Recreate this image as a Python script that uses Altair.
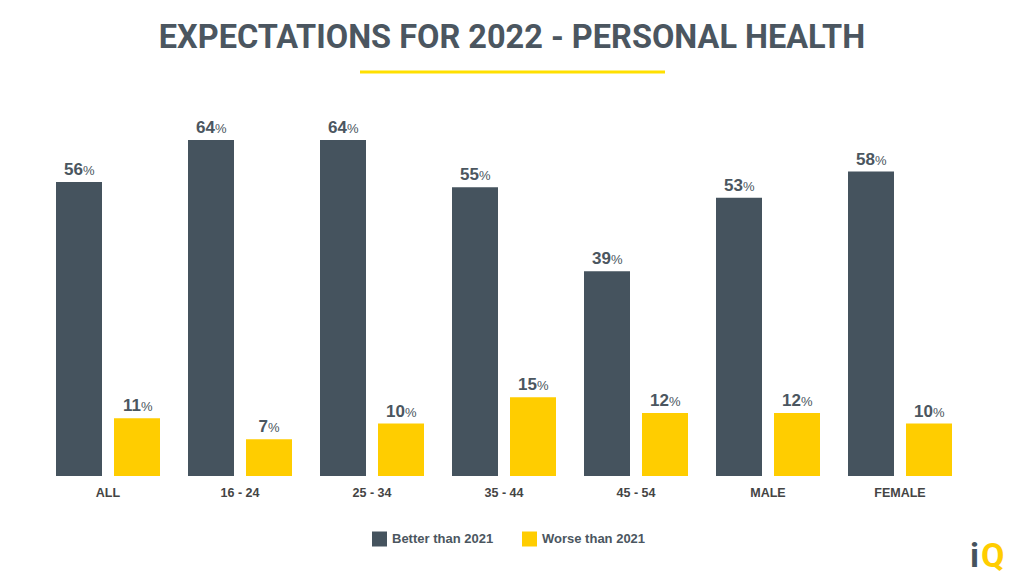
import altair as alt
import pandas as pd

categories = ["ALL", "16 - 24", "25 - 34", "35 - 44", "45 - 54", "MALE", "FEMALE"]
better = [56, 64, 64, 55, 39, 53, 58]
worse = [11, 7, 10, 15, 12, 12, 10]
series = ["Better than 2021", "Worse than 2021"]
colors = ["#45535e", "#ffcd00"]
title_text = "EXPECTATIONS FOR 2022 - PERSONAL HEALTH"

rows = []
for c, b, w in zip(categories, better, worse):
    rows.append({"cat": c, "series": series[0], "value": b})
    rows.append({"cat": c, "series": series[1], "value": w})
df = pd.DataFrame(rows)
df["num"] = df["value"].astype(str)
df["pct"] = "%"

FONT = "Liberation Sans"
TXT = "#4b5660"

x = alt.X("cat:N", sort=categories,
          scale=alt.Scale(paddingInner=28 / 132, paddingOuter=0),
          axis=alt.Axis(title=None, labelAngle=0, domain=False, ticks=False,
                        labelFontWeight="bold", labelFontSize=12.5, labelColor="#444444",
                        labelPadding=10, labelFont=FONT, grid=False))
xo = alt.XOffset("series:N", sort=series,
                 scale=alt.Scale(paddingInner=12 / 58, paddingOuter=0))
y = alt.Y("value:Q", scale=alt.Scale(domain=[0, 70]), axis=None)

base = alt.Chart(df)

bars = base.mark_bar().encode(
    x=x, xOffset=xo, y=y,
    color=alt.Color("series:N", sort=series,
                    scale=alt.Scale(domain=series, range=colors),
                    legend=alt.Legend(title=None, orient="none", direction="horizontal",
                                      legendX=316, legendY=423, symbolType="square",
                                      symbolSize=225, symbolStrokeWidth=0,
                                      labelFontSize=13, labelFontWeight="bold",
                                      labelColor=TXT, labelFont=FONT, columnPadding=28,
                                      labelOffset=5, padding=0)),
)

num2 = base.transform_filter("datum.value >= 10").mark_text(
    align="right", baseline="alphabetic", dy=-7, dx=4, fontSize=17,
    fontWeight="bold", color=TXT, font=FONT
).encode(x=x, xOffset=xo, y=y, text="num:N")
pct2 = base.transform_filter("datum.value >= 10").mark_text(
    align="left", baseline="alphabetic", dy=-7, dx=4, fontSize=13,
    fontWeight="normal", color=TXT, font=FONT
).encode(x=x, xOffset=xo, y=y, text="pct:N")
num1 = base.transform_filter("datum.value < 10").mark_text(
    align="right", baseline="alphabetic", dy=-7, dx=-1, fontSize=17,
    fontWeight="bold", color=TXT, font=FONT
).encode(x=x, xOffset=xo, y=y, text="num:N")
pct1 = base.transform_filter("datum.value < 10").mark_text(
    align="left", baseline="alphabetic", dy=-7, dx=-1, fontSize=13,
    fontWeight="normal", color=TXT, font=FONT
).encode(x=x, xOffset=xo, y=y, text="pct:N")

title = alt.Chart(pd.DataFrame({"t": [title_text]})).mark_text(
    align="center", baseline="alphabetic", fontSize=32.5, fontWeight="bold",
    font="Roboto", color=TXT
).encode(text="t:N", x=alt.value(456), y=alt.value(-60.5))

underline = alt.Chart(pd.DataFrame({"a": [0]})).mark_rule(
    color="#ffe000", strokeWidth=3
).encode(x=alt.value(304), x2=alt.value(609), y=alt.value(-36.5))

logo_i = alt.Chart(pd.DataFrame({"t": ["i"]})).mark_text(
    align="left", baseline="alphabetic", fontSize=34, fontWeight="bold",
    font="Roboto", color="#45535e"
).encode(text="t:N", x=alt.value(914), y=alt.value(458))
logo_q = alt.Chart(pd.DataFrame({"t": ["Q"]})).mark_text(
    align="left", baseline="alphabetic", fontSize=34, fontWeight="bold",
    font="Roboto", color="#ffcd00"
).encode(text="t:N", x=alt.value(925), y=alt.value(458))

chart = alt.layer(bars, num2, pct2, num1, pct1, title, underline, logo_i, logo_q).properties(
    width=896, height=367.5,
    autosize=alt.AutoSizeParams(type="none"),
    padding={"left": 48, "top": 100.5, "right": 64, "bottom": 97},
    background="white",
).configure_view(stroke=None)

chart.save("out.html", embed_options={"renderer": "svg", "actions": False})
